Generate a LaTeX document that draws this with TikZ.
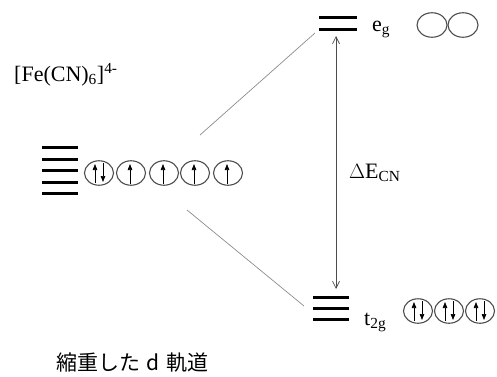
\documentclass[tikz,border=0pt]{standalone}
\usepackage{fontspec}
\setmainfont{Liberation Serif}
\newfontfamily\jpfont{Noto Sans CJK JP}
\usetikzlibrary{arrows.meta,shapes.geometric}
\begin{document}
\begin{tikzpicture}[x=1pt,y=-1pt,
  lvl/.style={line width=3pt,black},
  orb/.style={draw=black!70,line width=1.1pt,ellipse,minimum width=29pt,minimum height=24.5pt,inner sep=0pt},
  spinup/.style={line width=0.7pt,-{Triangle[length=6pt,width=4.5pt]}},
  corr/.style={draw=black!45,line width=0.7pt},
  gap/.style={draw=black!70,line width=0.7pt,{Straight Barb[length=7pt,width=7pt]}-{Straight Barb[length=7pt,width=7pt]}},
  lab/.style={inner sep=0pt,anchor=base west,font=\fontsize{22}{22}\selectfont}]
\useasboundingbox (0,0) rectangle (497,376);
% title
\node[lab] (title) at (14,81) {[Fe(CN)\textsubscript{6}]\textsuperscript{4-}};
% degenerate levels
\foreach \y in {147,159,170,182,193} \draw[lvl] (42,\y) -- (78,\y);
% degenerate orbitals
\node[orb] (d1) at (99,173) {};
\node[orb] (d2) at (131,173) {};
\node[orb] (d3) at (164,173) {};
\node[orb] (d4) at (195,173) {};
\node[orb] (d5) at (228,173) {};
\draw[spinup] ([shift={(-4,10)}]d1.center) -- ([shift={(-4,-9)}]d1.center);
\draw[spinup] ([shift={(4,-10)}]d1.center) -- ([shift={(4,9)}]d1.center);
\foreach \n in {d2,d3,d4,d5}
  \draw[spinup] ([shift={(-1,11)}]\n.center) -- ([shift={(-1,-9)}]\n.center);
% eg
\draw[lvl] (319,17) -- (357,17);
\draw[lvl] (319,29) -- (357,29);
\node[lab] (eg) at (372,31) {e\textsubscript{g}};
\node[orb,minimum width=30pt] (e1) at (432,25) {};
\node[orb,minimum width=30pt] (e2) at (463,25) {};
% t2g
\draw[lvl] (313,297) -- (349,297);
\draw[lvl] (313,308) -- (349,308);
\draw[lvl] (313,319) -- (349,319);
\node[lab] (t2g) at (364,325) {t\textsubscript{2g}};
\node[orb] (t1) at (418,311) {};
\node[orb] (t2) at (449,311) {};
\node[orb] (t3) at (480,311) {};
\foreach \n in {t1,t2,t3}{
  \draw[spinup] ([shift={(-4,10)}]\n.center) -- ([shift={(-4,-9)}]\n.center);
  \draw[spinup] ([shift={(4,-10)}]\n.center) -- ([shift={(4,9)}]\n.center);
}
% correlation lines
\coordinate (ua) at (200,135);
\coordinate (ub) at (315,33);
\coordinate (la) at (187,210);
\coordinate (lb) at (304,306);
\draw[corr] (ua) -- (ub);
\draw[corr] (la) -- (lb);
% gap arrow
\coordinate (gt) at (336,36);
\coordinate (gb) at (336,289);
\draw[gap] (gt) -- (gb);
\node[lab] (de) at (349,178) {$\Delta$E\textsubscript{CN}};
% caption
\node[inner sep=0pt,font=\jpfont\fontsize{21}{21}\selectfont,anchor=base west] (cap) at (56,370) {縮重した\hspace{6pt}d\hspace{7pt}軌道};
\end{tikzpicture}
\end{document}
